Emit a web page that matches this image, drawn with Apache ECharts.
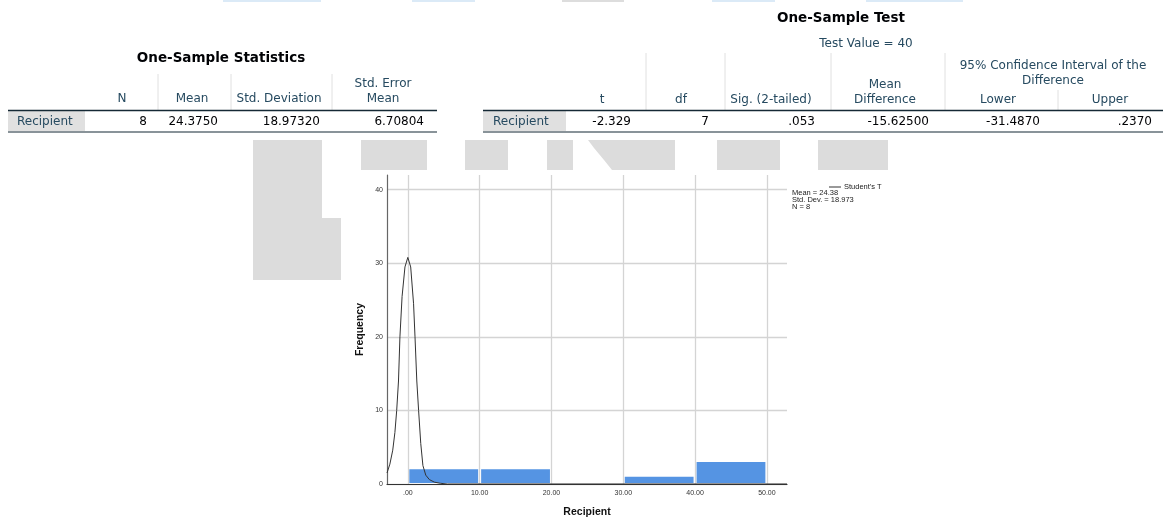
<!DOCTYPE html>
<html>
<head>
<meta charset="utf-8">
<script src="https://cdn.jsdelivr.net/npm/echarts@6/dist/echarts.min.js"></script>
<style>
  html, body { margin: 0; padding: 0; background: #fff; }
  #chart { width: 1163px; height: 519px; }
</style>
</head>
<body>
<div id="chart"></div>
<script>
// table texts
const statsTitle = 'One-Sample Statistics'
const statsHeaders = ['N', 'Mean', 'Std. Deviation', 'Std. Error\nMean']
const statsValues = ['8', '24.3750', '18.97320', '6.70804']
const testTitle = 'One-Sample Test'
const testValueLabel = 'Test Value = 40'
const ciLabel = '95% Confidence Interval of the\nDifference'
const testHeaders = ['t', 'df', 'Sig. (2-tailed)', 'Mean\nDifference', 'Lower', 'Upper']
const testValues = ['-2.329', '7', '.053', '-15.62500', '-31.4870', '.2370']
const rowName = 'Recipient'

// histogram
const binStarts = [0, 10, 20, 30, 40]
const binEnds = [10, 20, 30, 40, 50]
const binCounts = [2, 2, 0, 1, 3]
const xTicks = [0, 10, 20, 30, 40, 50]
const yTicks = [0, 10, 20, 30, 40]

// Student's T curve
const curveX = [-2.9, -2.5, -2.1, -1.8, -1.55, -1.3, -1.1, -0.8, -0.4, 0, 0.4, 0.8, 1.0, 1.25, 1.5, 1.8, 2.1, 2.5, 3, 3.7, 4.5, 5.5, 52.8]
const curveY = [1.5, 2.7, 4.6, 7, 10, 14, 20, 25.5, 29.5, 30.8, 29.5, 24.5, 20, 14, 10, 5.5, 2.5, 1.2, 0.6, 0.25, 0.1, 0, 0]
const curveName = "Student's T"
const statNotes = ['Mean = 24.38', 'Std. Dev. = 18.973', 'N = 8']

const FONT = '"Liberation Sans", Arial, sans-serif'
const TFONT = '"DejaVu Sans", sans-serif'
const HEAD = '#264a60'
const INK = '#010205'
const RULE = '#152935'

function txt(text, x, y, align, opts) {
  const o = opts || {}
  return {
    type: 'text',
    x, y,
    silent: true,
    style: {
      text,
      align, textAlign: align,
      verticalAlign: o.va || 'middle', textVerticalAlign: o.va || 'middle',
      fill: o.color || INK,
      fontSize: o.size || 12,
      fontWeight: o.bold ? 'bold' : 'normal',
      fontFamily: o.font || TFONT,
      lineHeight: o.lh || 15,
    },
  }
}
function hline(x1, x2, y, color, w) {
  return { type: 'line', silent: true, shape: { x1, y1: y, x2, y2: y }, style: { stroke: color, lineWidth: w || 1 } }
}
function vline(x, y1, y2, color) {
  return { type: 'line', silent: true, shape: { x1: x, y1, x2: x, y2 }, style: { stroke: color, lineWidth: 1 } }
}
function box(x, y, width, height, color) {
  return { type: 'rect', silent: true, shape: { x, y, width, height }, style: { fill: color } }
}

const els = []

// faint watermark blocks
const wm = '#dcdcdc'
els.push(box(253, 140, 69, 140, wm), box(322, 218, 19, 62, wm))
els.push(box(361, 140, 66, 30, wm), box(465, 140, 43, 30, wm))
els.push(box(547, 140, 26, 30, wm))
els.push({ type: 'polygon', silent: true, shape: { points: [[588, 140], [675, 140], [675, 170], [612, 170], [604, 160], [594, 148]] }, style: { fill: wm } })
els.push(box(717, 140, 63, 30, wm), box(818, 140, 70, 30, wm))
// bits of the cells above, cut at the top edge
els.push(box(223, 0, 98, 2, '#dbeaf7'), box(412, 0, 63, 2, '#dbeaf7'), box(562, 0, 62, 2, '#dddddd'),
  box(712, 0, 63, 2, '#dbeaf7'), box(866, 0, 97, 2, '#dbeaf7'))

// One-Sample Statistics
els.push(txt(statsTitle, 221, 58, 'center', { bold: true, size: 13.5 }))
;[158, 231, 332].forEach(x => els.push(vline(x, 74, 110, '#e0e0e0')))
const statsHeadX = [122, 192, 279, 383]
statsHeaders.forEach((h, i) => els.push(txt(h, statsHeadX[i], 106, 'center', { color: HEAD, va: 'bottom' })))
els.push(box(8, 111, 77, 20, '#e0e0e0'))
els.push(hline(8, 437, 110.5, RULE, 1.5), hline(8, 437, 132, RULE, 1.2))
els.push(txt(rowName, 17, 122, 'left', { color: HEAD }))
const statsValX = [147, 218, 320, 424]
statsValues.forEach((v, i) => els.push(txt(v, statsValX[i], 122, 'right')))

// One-Sample Test
els.push(txt(testTitle, 841, 18, 'center', { bold: true, size: 13.5 }))
els.push(txt(testValueLabel, 866, 44, 'center', { color: HEAD }))
;[646, 725, 831, 945].forEach(x => els.push(vline(x, 53, 110, '#e0e0e0')))
els.push(vline(1058, 90, 110, '#e0e0e0'))
els.push(txt(ciLabel, 1053, 88, 'center', { color: HEAD, va: 'bottom' }))
const testHeadX = [602, 681, 771, 885, 998, 1110]
testHeaders.forEach((h, i) => els.push(txt(h, testHeadX[i], 107, 'center', { color: HEAD, va: 'bottom' })))
els.push(box(483, 111, 83, 20, '#e0e0e0'))
els.push(hline(483, 1163, 110.5, RULE, 1.5), hline(483, 1163, 132, RULE, 1.2))
els.push(txt(rowName, 493, 122, 'left', { color: HEAD }))
const testValX = [631, 709, 815, 929, 1040, 1152]
testValues.forEach((v, i) => els.push(txt(v, testValX[i], 122, 'right')))

// chart notes
statNotes.forEach((s, i) => els.push(txt(s, 792, 193 + i * 7, 'left', { size: 7.5, color: '#222', lh: 7, font: FONT })))

const binData = binStarts.map((s, i) => [s, binEnds[i], binCounts[i]])
const curveData = curveX.map((x, i) => [x, curveY[i]])

const chart = echarts.init(document.getElementById('chart'))
chart.setOption({
  animation: false,
  textStyle: { fontFamily: FONT },
  graphic: { elements: els },
  legend: {
    data: [{ name: curveName, icon: 'rect' }],
    left: 829,
    top: 183,
    itemWidth: 12,
    itemHeight: 1,
    padding: 0,
    textStyle: { fontSize: 7.5, color: '#222', padding: [0, 0, 0, -2] },
  },
  grid: { left: 387, top: 175, width: 400, height: 309, outerBoundsMode: 'none' },
  xAxis: {
    type: 'value',
    min: -2.9,
    max: 52.8,
    name: 'Recipient',
    nameLocation: 'middle',
    nameGap: 23,
    nameTextStyle: { fontSize: 10.5, fontWeight: 'bold', color: '#111' },
    axisLine: { show: true, onZero: false, lineStyle: { color: '#333', width: 1.2 } },
    axisTick: { show: false, customValues: xTicks },
    axisLabel: {
      customValues: xTicks,
      fontSize: 7,
      color: '#333',
      margin: 6,
      formatter: v => (v === 0 ? '.00' : v.toFixed(2)),
    },
    splitLine: { show: true, lineStyle: { color: '#d4d4d4', width: 1.3 } },
  },
  yAxis: {
    type: 'value',
    min: 0,
    max: 42,
    name: 'Frequency',
    nameLocation: 'middle',
    nameGap: 21,
    nameTextStyle: { fontSize: 10.5, fontWeight: 'bold', color: '#111' },
    axisLine: { show: true, onZero: false, lineStyle: { color: '#666', width: 1.2 } },
    axisTick: { show: false, customValues: yTicks },
    axisLabel: { customValues: yTicks, fontSize: 7, color: '#333', margin: 4 },
    splitLine: { show: true, lineStyle: { color: '#d4d4d4', width: 1.3 } },
  },
  series: [
    {
      type: 'custom',
      name: 'Histogram',
      data: binData,
      encode: { x: [0, 1], y: 2 },
      renderItem: (params, api) => {
        const p0 = api.coord([api.value(0), api.value(2)])
        const p1 = api.coord([api.value(1), 0])
        return {
          type: 'rect',
          shape: { x: p0[0] + 1.5, y: p0[1], width: p1[0] - p0[0] - 3, height: Math.max(0, p1[1] - p0[1] - 1) },
          style: { fill: '#5594e3' },
        }
      },
    },
    {
      type: 'line',
      name: curveName,
      data: curveData,
      symbol: 'none',
      color: '#333',
      lineStyle: { color: '#333', width: 1 },
      z: 5,
    },
  ],
})
</script>
</body>
</html>
